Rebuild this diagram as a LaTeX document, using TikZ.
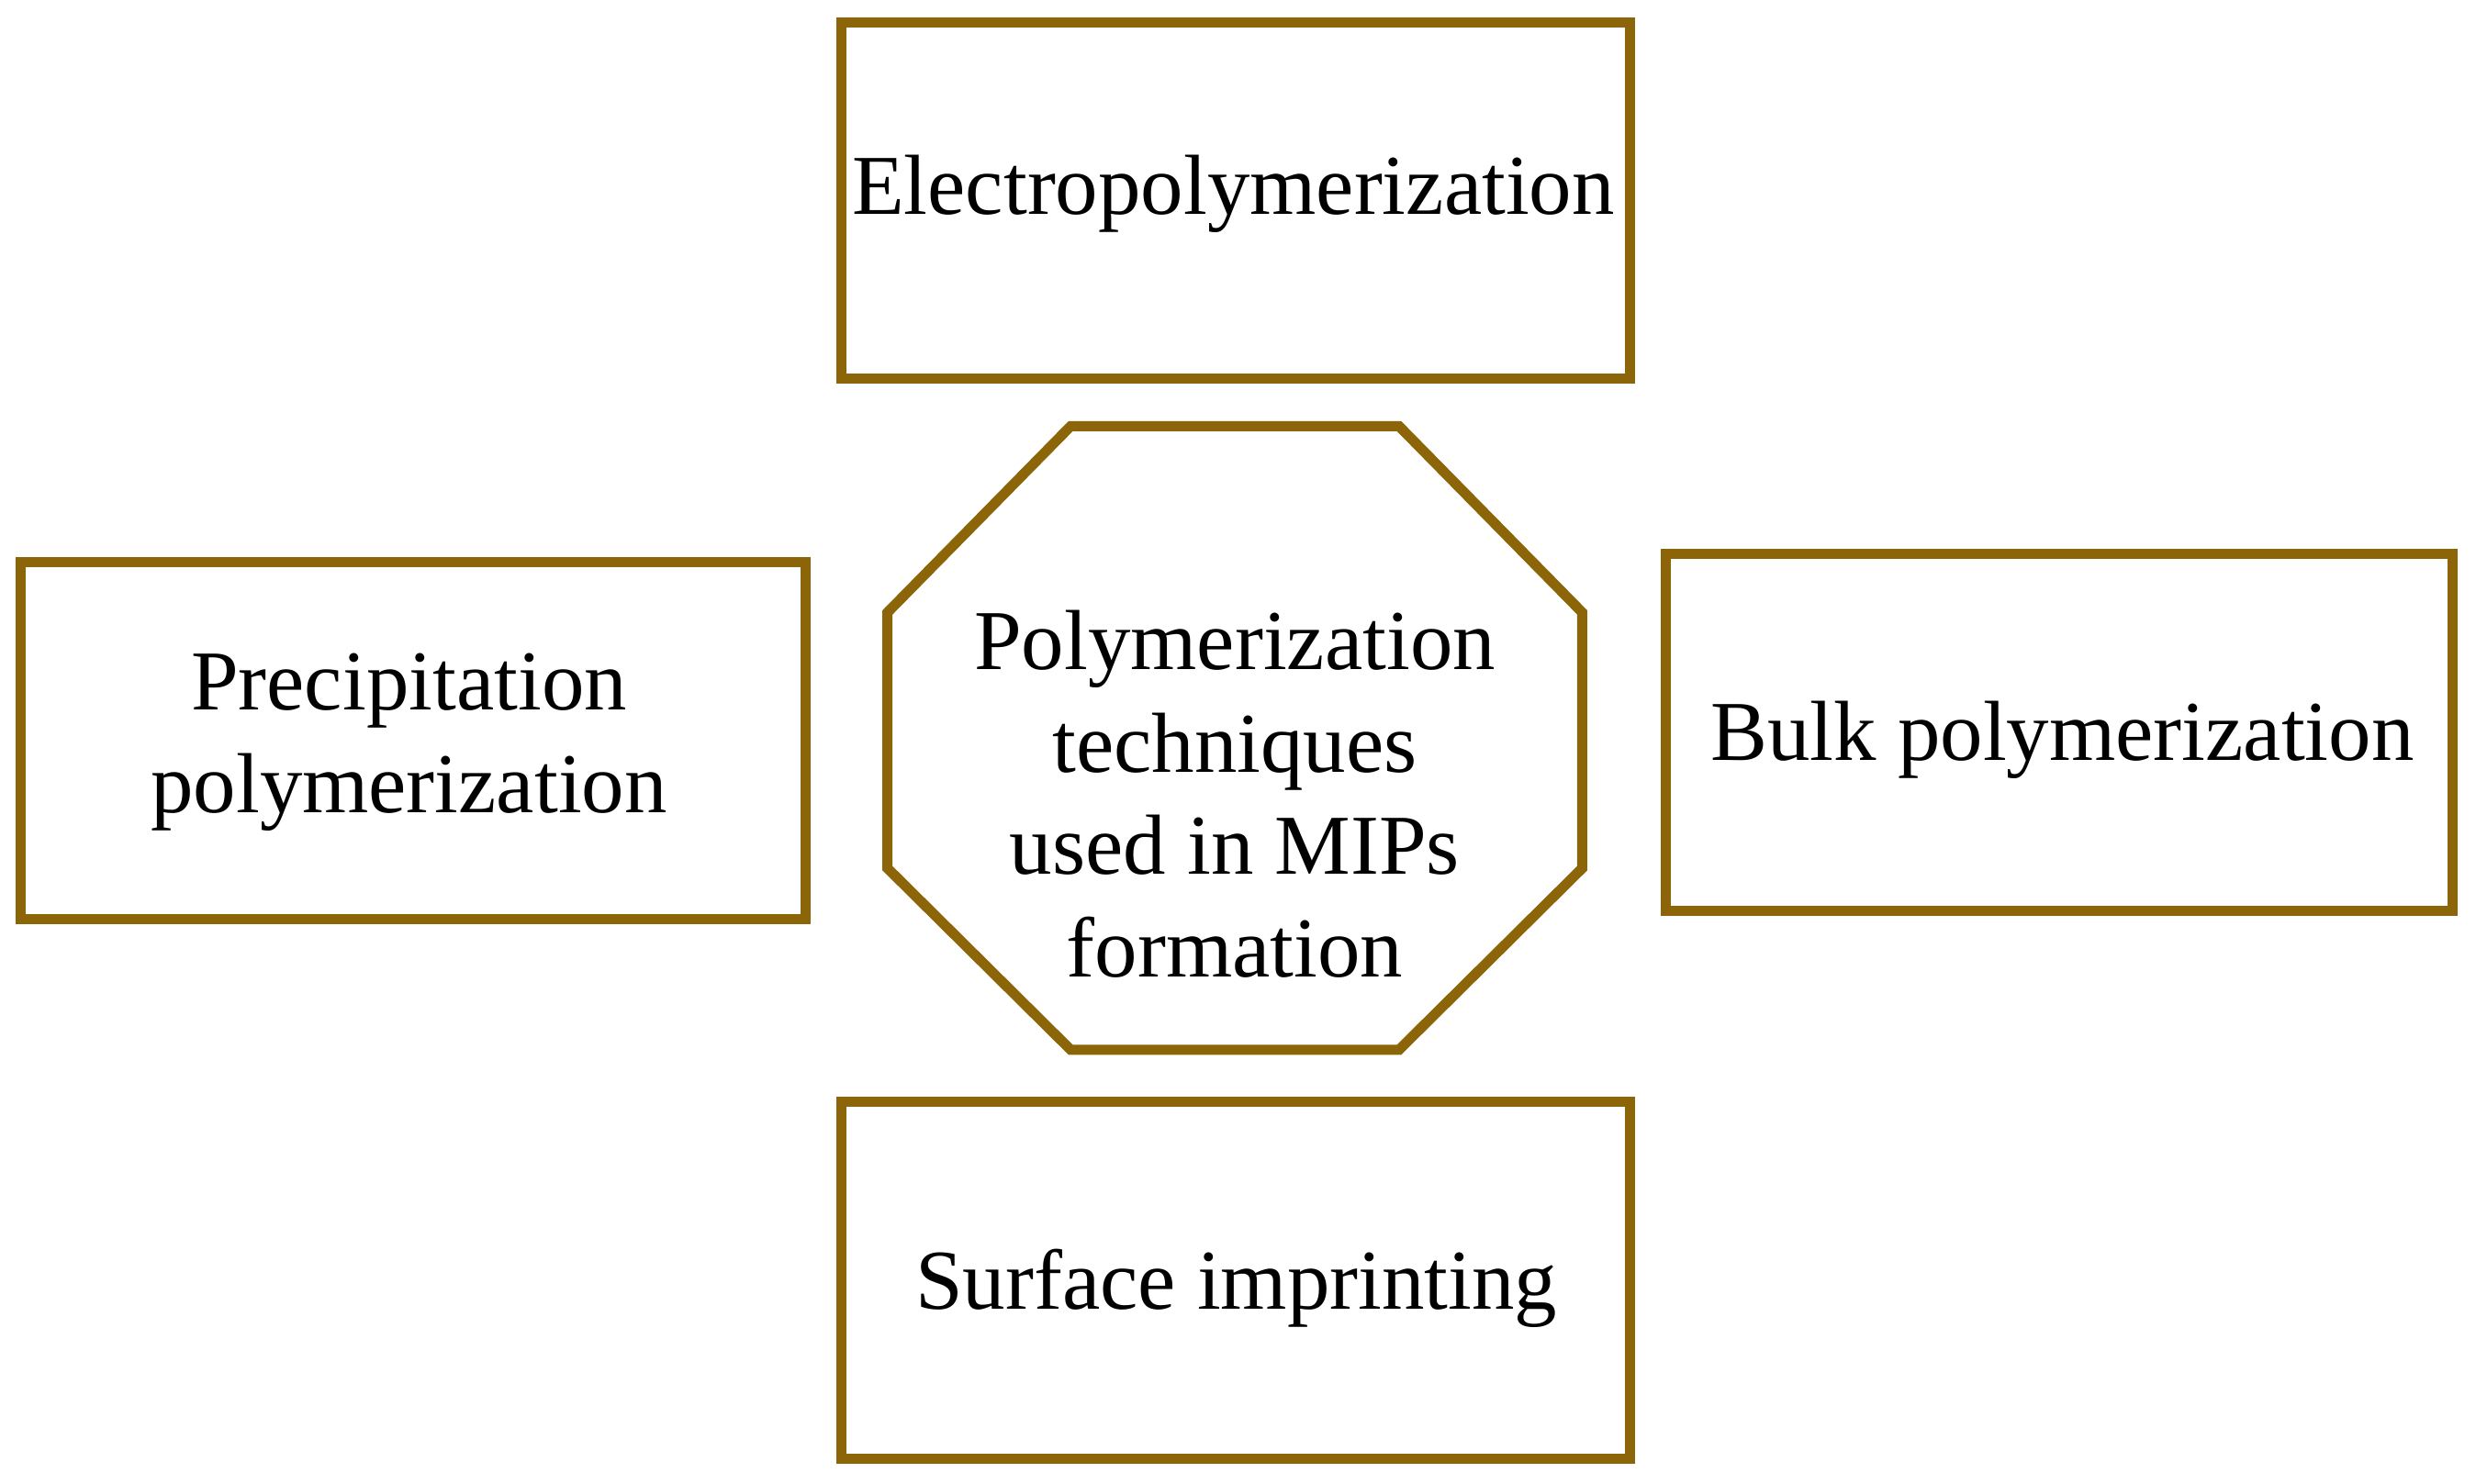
\documentclass[tikz,border=0pt]{standalone}
\usepackage{fontspec}
\setmainfont{Liberation Serif}
\begin{document}
\begin{tikzpicture}[x=0.5pt,y=-0.5pt,
  bx/.style={draw=brn,line width=3.2pt,fill=white},
  lbl/.style={font=\fontsize{27}{32.5}\selectfont,align=center}]
\definecolor{brn}{HTML}{8B6508}
\useasboundingbox (0,0) rectangle (1568,940);
\draw[bx] (533,14) rectangle (1032,240);
\node[lbl] (e) at (781,123) {Electropolymerization};
\draw[bx] (13,356) rectangle (510,582);
\node[lbl] (p) at (259,470) {Precipitation\\polymerization};
\draw[bx] (1055,351) rectangle (1553,577);
\node[lbl] (b) at (1306,469) {Bulk polymerization};
\draw[bx] (533,698) rectangle (1032,924);
\node[lbl] (s) at (783,816) {Surface imprinting};
\draw[bx] (678,270)--(886,270)--(1002,388)--(1002,550)--(886,665)--(678,665)--(562,550)--(562,388)--cycle;
\node[lbl] (c) at (782,503) {Polymerization\\techniques\\used in MIPs\\formation};
\end{tikzpicture}
\end{document}
